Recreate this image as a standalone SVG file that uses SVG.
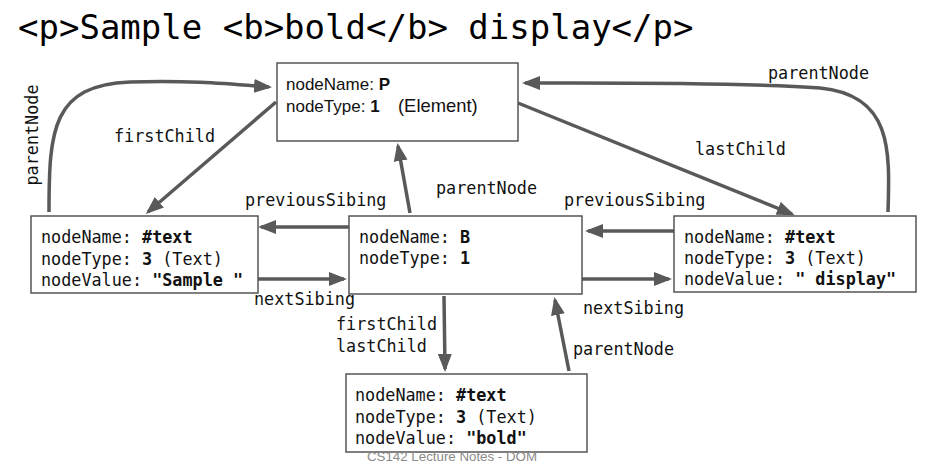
<svg xmlns="http://www.w3.org/2000/svg" width="927" height="473" viewBox="0 0 927 473">
<defs>
<marker id="arr" markerUnits="userSpaceOnUse" markerWidth="18" markerHeight="14" refX="15" refY="7" orient="auto">
<path d="M0,0 L18,7 L0,14 z" fill="#595959"/>
</marker>
<style>
.box{fill:#fff;stroke:#555;stroke-width:1.5}
.mono{font-family:"DejaVu Sans Mono","Liberation Mono",monospace;font-size:16.8px;fill:#111}
.sans{font-family:"Liberation Sans",Arial,sans-serif;font-size:17px;fill:#111}
.b{font-weight:bold}
.conn{fill:none;stroke:#595959;stroke-width:3.5;marker-end:url(#arr)}
.lbl{font-family:"DejaVu Sans Mono","Liberation Mono",monospace;font-size:16.8px;fill:#111}
</style>
</defs>
<rect width="927" height="473" fill="#fff"/>
<text x="18" y="39" font-family="DejaVu Sans Mono, monospace" font-size="34" fill="#000">&lt;p&gt;Sample &lt;b&gt;bold&lt;/b&gt; display&lt;/p&gt;</text>

<g id="connectors">
<path class="conn" d="M49,212 C49,130 52,85 130,82 C190,80 230,84 269,87"/>
<path class="conn" d="M276,102 L148,212"/>
<path class="conn" d="M518,103 L792,214"/>
<path class="conn" d="M888,212 C890,150 892,95 820,88 C740,82 600,83 525,83"/>
<path class="conn" d="M410,213 L398,146"/>
<path class="conn" d="M349,227 L261,227"/>
<path class="conn" d="M258,279 L344,279"/>
<path class="conn" d="M674,231 L588,231"/>
<path class="conn" d="M582,279 L669,279"/>
<path class="conn" d="M444,296 L445,369"/>
<path class="conn" d="M569,371 L555,300"/>
<text class="lbl" transform="translate(38,135) rotate(-90)" text-anchor="middle">parentNode</text>
<text class="lbl" x="114" y="142">firstChild</text>
<text class="lbl" x="695" y="155">lastChild</text>
<text class="lbl" x="768" y="79">parentNode</text>
<text class="lbl" x="436" y="194">parentNode</text>
<text class="lbl" x="245" y="206">previousSibing</text>
<text class="lbl" x="254" y="305">nextSibing</text>
<text class="lbl" x="564" y="206">previousSibing</text>
<text class="lbl" x="583" y="314">nextSibing</text>
<text class="lbl" x="336" y="330">firstChild</text>
<text class="lbl" x="336" y="352">lastChild</text>
<text class="lbl" x="573" y="355">parentNode</text>
</g>

<g id="node-p">
<rect class="box" x="277" y="63" width="241" height="78"/>
<text class="sans" x="286" y="90">nodeName: <tspan class="b">P</tspan></text>
<text class="sans" x="286" y="112">nodeType: <tspan class="b">1</tspan><tspan x="398" font-size="18.4">(Element)</tspan></text>
</g>

<g id="node-text-sample">
<rect class="box" x="31" y="216" width="227" height="77"/>
<text class="mono" x="41" y="243">nodeName: <tspan class="b">#text</tspan></text>
<text class="mono" x="41" y="265">nodeType: <tspan class="b">3</tspan> (Text)</text>
<text class="mono" x="41" y="286">nodeValue: <tspan class="b">"Sample "</tspan></text>
</g>

<g id="node-b">
<rect class="box" x="349" y="216" width="233" height="78"/>
<text class="mono" x="359" y="243">nodeName: <tspan class="b">B</tspan></text>
<text class="mono" x="359" y="264">nodeType: <tspan class="b">1</tspan></text>
</g>

<g id="node-text-display">
<rect class="box" x="674" y="216" width="242" height="76"/>
<text class="mono" x="684" y="243">nodeName: <tspan class="b">#text</tspan></text>
<text class="mono" x="684" y="264">nodeType: <tspan class="b">3</tspan> (Text)</text>
<text class="mono" x="684" y="285">nodeValue: <tspan class="b">" display"</tspan></text>
</g>

<g id="node-text-bold">
<rect class="box" x="346" y="374" width="241" height="78"/>
<text class="mono" x="355" y="401">nodeName: <tspan class="b">#text</tspan></text>
<text class="mono" x="355" y="423">nodeType: <tspan class="b">3</tspan> (Text)</text>
<text class="mono" x="355" y="444">nodeValue: <tspan class="b">"bold"</tspan></text>
</g>

<text x="367" y="461" font-family="Liberation Sans, Arial, sans-serif" font-size="13.3" fill="#8a8a8a">CS142 Lecture Notes - DOM</text>
</svg>
